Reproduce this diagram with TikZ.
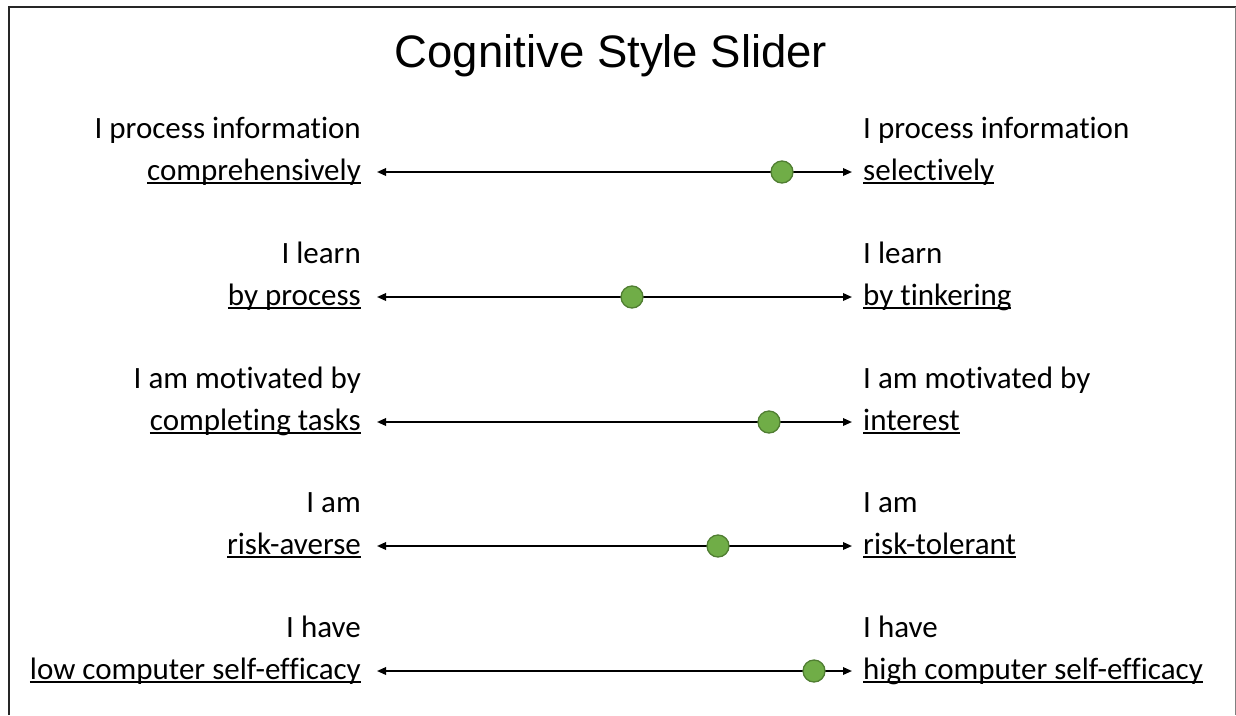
\documentclass[tikz,border=0pt]{standalone}
\usepackage{fontspec}
\setmainfont{Carlito}[Ligatures=NoCommon]
\newfontfamily\titlefont{Liberation Sans}
\usetikzlibrary{arrows.meta}
\definecolor{dotfill}{HTML}{70AD47}
\definecolor{dotedge}{HTML}{507E32}
% underline at a fixed depth, crossing descenders
\newsavebox\ulbox
\newcommand{\ulword}[1]{\sbox\ulbox{#1}\rlap{\rule[-3.8pt]{\wd\ulbox}{1.7pt}}\usebox\ulbox}

\begin{document}
\begin{tikzpicture}[x=1pt,y=-1pt,
  lbl/.style={inner sep=0pt, font=\fontsize{31}{37}\selectfont},
  lefttxt/.style={lbl, anchor=base east},
  righttxt/.style={lbl, anchor=base west},
  slider/.style={{Triangle[length=9pt,width=7.5pt]}-{Triangle[length=9pt,width=7.5pt]}, line width=1.8pt},
  knob/.style={circle, fill=dotfill, draw=dotedge, line width=1.3pt, minimum size=22pt, inner sep=0pt}]
\useasboundingbox (0,0) rectangle (1236,715);
% frame
\draw[line width=2pt, color=black!85] (9,715) -- (9,7) -- (1236,7);
\draw[gray, line width=1pt] (1235,7) -- (1235,715);
% title
\node[font=\titlefont\fontsize{45.5}{55}\selectfont, anchor=base, inner sep=0pt] (title) at (611,67) {Cognitive Style Slider};
% slider rows
\foreach \i/\tl/\bl/\tr/\br/\dx in {
  0/I process information/comprehensively/I process information/selectively/782,
  1/I learn/by process/I learn/by tinkering/632,
  2/I am motivated by/completing tasks/I am motivated by/interest/769,
  3/I am/risk-averse/I am/risk-tolerant/718,
  4/I have/low computer self-efficacy/I have/high computer self-efficacy/814}{
  \pgfmathsetmacro{\yy}{round(172+124.8*\i)}
  \node[lefttxt] (lt\i) at (361,\yy-34) {\tl};
  \node[lefttxt] (lb\i) at (361,\yy+8) {\ulword{\bl}};
  \node[righttxt] (rt\i) at (863,\yy-34) {\tr};
  \node[righttxt] (rb\i) at (863,\yy+8) {\ulword{\br}};
  \coordinate (a\i) at (377,\yy);
  \coordinate (b\i) at (852,\yy);
  \draw[slider] (a\i) -- (b\i);
  \node[knob] (k\i) at (\dx,\yy) {};
}
\end{tikzpicture}
\end{document}
